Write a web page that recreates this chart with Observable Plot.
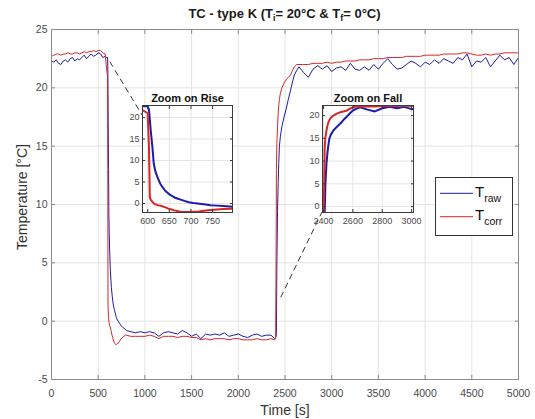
<!DOCTYPE html>
<html><head><meta charset="utf-8">
<script src="https://cdn.jsdelivr.net/npm/d3@7"></script>
<script src="https://cdn.jsdelivr.net/npm/@observablehq/plot@0.6"></script>
<style>
html,body{margin:0;padding:0;background:#fff;}
#chart{position:relative;width:535px;height:419px;overflow:hidden;font-family:"Liberation Sans",Arial,Helvetica,sans-serif;}
#chart > svg{position:absolute;}
.title{position:absolute;left:51px;width:467px;top:6px;text-align:center;font-weight:bold;font-size:13px;line-height:15px;color:#1a1a1a;white-space:nowrap;}
.title sub{font-size:9px;vertical-align:-3px;line-height:0;}
.xlabel{position:absolute;left:185px;width:200px;top:403px;text-align:center;font-size:14px;line-height:14px;color:#333;}
.ylabel{position:absolute;left:-78px;width:200px;top:190px;text-align:center;font-size:14px;line-height:14px;color:#333;transform:rotate(-90deg);}
</style></head>
<body>
<div id="chart">
  <div class="title">TC - type K (T<sub>i</sub>= 20°C &amp; T<sub>f</sub>= 0°C)</div>
  <div class="xlabel">Time [s]</div>
  <div class="ylabel">Temperature [°C]</div>
</div>
<script>
// ---- data ----
const time = [
  0,25,50,75,100,125,150,175,200,225,250,275,300,325,350,375,400,425,450,475,500,525,550,575,590,
  600,603,605,607,611,614,618,623,629,635,641,648,655,662,670,676,685,695,705,715,730,745,760,775,790,
  800,850,900,950,1000,1050,1100,1150,1200,1250,1300,1350,1400,1450,1500,1550,1600,1650,1700,1750,1800,1850,1900,1950,2000,2050,2100,2150,2200,2250,2300,2350,2390,
  2400,2405,2408,2413,2420,2427,2433,2440,2450,2467,2490,2513,2535,2560,2580,2600,2625,2650,
  2700,2750,2800,2850,2900,2950,3000,3050,3100,3150,3200,3250,3300,3350,3400,3450,3500,3550,3600,3650,3700,3750,3800,3850,3900,3950,4000,4050,4100,4150,4200,4250,4300,4350,4400,4450,4500,4550,4600,4650,4700,4750,4800,4850,4900,4950,5000
];
const tRaw = [
  22.3,22.2,22.4,22.1,22.0,22.3,22.4,22.2,22.5,22.6,22.3,22.5,22.4,22.6,22.8,22.5,22.7,22.9,22.7,22.8,23.0,22.9,22.6,22.7,22.6,
  22.6,21.8,19.5,17.0,13.0,9.3,7.4,6.0,4.6,3.7,2.9,2.3,1.8,1.4,1.1,0.9,0.6,0.3,0.1,0.0,-0.2,-0.4,-0.5,-0.6,-0.7,
  -0.8,-0.9,-1.0,-0.9,-1.0,-0.9,-1.0,-1.3,-1.0,-0.9,-1.0,-1.1,-0.8,-1.0,-1.3,-1.1,-1.5,-1.1,-1.2,-1.1,-1.2,-1.0,-1.3,-1.2,-1.1,-1.3,-1.4,-1.2,-1.1,-1.3,-1.2,-1.2,-1.5,
  -1.4,-1.3,-1.0,5.0,9.4,11.9,13.5,15.0,15.8,16.7,17.5,18.2,19.0,19.8,20.5,21.1,21.5,21.8,
  21.3,20.9,21.6,21.9,21.6,21.9,21.4,21.7,21.8,21.5,22.1,21.6,21.5,21.8,21.5,22.0,21.6,22.1,22.5,22.0,21.6,21.7,22.0,22.3,22.1,21.8,22.2,22.0,22.4,22.1,22.5,22.3,22.1,22.6,22.4,22.9,21.8,22.3,22.2,22.6,21.8,22.3,22.8,22.4,22.6,22.0,22.6
];
const tCorr = [
  22.7,22.8,22.9,22.9,22.8,22.9,22.9,23.0,22.9,22.9,23.0,23.0,22.9,23.0,23.1,23.0,23.1,23.1,23.2,23.1,23.2,23.2,23.0,22.9,21.6,
  21.0,13.0,1.4,0.9,0.4,0.0,-0.2,-0.4,-0.5,-0.7,-0.9,-1.2,-1.4,-1.6,-1.8,-1.9,-2.0,-2.0,-1.9,-1.9,-1.7,-1.5,-1.4,-1.3,-1.2,
  -1.2,-1.3,-1.3,-1.3,-1.3,-1.2,-1.3,-1.5,-1.3,-1.3,-1.3,-1.4,-1.3,-1.3,-1.4,-1.4,-1.6,-1.5,-1.6,-1.5,-1.5,-1.5,-1.6,-1.5,-1.5,-1.6,-1.6,-1.6,-1.5,-1.6,-1.6,-1.5,-1.6,
  -1.5,6.0,13.0,15.2,16.7,17.8,18.5,19.0,19.5,20.0,20.4,20.7,20.9,21.1,21.5,21.8,22.0,22.0,
  22.0,22.0,22.1,22.1,22.1,22.2,22.1,22.2,22.2,22.3,22.3,22.3,22.4,22.4,22.4,22.5,22.5,22.5,22.6,22.6,22.6,22.6,22.7,22.7,22.7,22.7,22.8,22.8,22.8,22.8,22.9,22.9,22.9,22.9,23.0,23.0,22.9,22.8,22.8,22.9,22.8,22.9,22.9,23.0,23.0,23.0,23.0
];
const seriesNames = ["raw", "corr"];
const xTicks = [0,500,1000,1500,2000,2500,3000,3500,4000,4500,5000];
const yTicks = [-5,0,5,10,15,20,25];
const riseTitle = "Zoom on Rise";
const riseXDomain = [588, 796];
const riseYDomain = [-2.1, 22.8];
const riseXTicks = [600,650,700,750];
const riseYTicks = [0,5,10,15,20];
const fallTitle = "Zoom on Fall";
const fallXDomain = [2393, 3013];
const fallYDomain = [-1.3, 22.2];
const fallXTicks = [2400,2600,2800,3000];
const fallYTicks = [0,5,10,15,20];
// connector anchor points: [main t, main T] -> [inset t, inset T]
const riseLink = [[630, 22.2], [588, 20.5]];
const fallLink = [[2460, 2.0], [2393, -1.3]];

// ---- styling ----
const FONT = '"Liberation Sans", Arial, Helvetica, sans-serif';
const BLUE = "#1c1ca8";
const RED = "#d82626";
const COLORS = {raw: BLUE, corr: RED};

const rows = time.map((t, i) => ({t, raw: tRaw[i], corr: tCorr[i]}));
const fmt = d => String(d);
const chart = document.getElementById("chart");

const main = Plot.plot({
  width: 535, height: 419,
  marginLeft: 51, marginRight: 17, marginTop: 29, marginBottom: 40,
  style: {fontFamily: FONT, fontSize: "10.5px", color: "#4a4a4a", background: "transparent", overflow: "visible"},
  x: {domain: [0, 5000]},
  y: {domain: [-5, 25]},
  marks: [
    Plot.gridX(xTicks, {stroke: "#e4e4e4", strokeOpacity: 1}),
    Plot.gridY(yTicks, {stroke: "#e4e4e4", strokeOpacity: 1}),
    Plot.line(rows, {x: "t", y: "raw", stroke: BLUE, strokeWidth: 1}),
    Plot.line(rows, {x: "t", y: "corr", stroke: RED, strokeWidth: 1}),
    Plot.frame({stroke: "#8c8c8c"}),
    Plot.axisX(xTicks, {anchor: "bottom", tickSize: -4, tickPadding: 14, tickFormat: fmt, label: null, stroke: "#8c8c8c"}),
    Plot.axisX(xTicks, {anchor: "top", tickSize: -4, tickFormat: () => "", label: null, stroke: "#8c8c8c"}),
    Plot.axisY(yTicks, {anchor: "left", tickSize: -4, tickPadding: 8, tickFormat: fmt, label: null, stroke: "#8c8c8c"}),
    Plot.axisY(yTicks, {anchor: "right", tickSize: -4, tickFormat: () => "", label: null, stroke: "#8c8c8c"})
  ]
});
main.style.left = "0px"; main.style.top = "0px";
chart.appendChild(main);

function inset(title, xd, yd, xt, yt, w, h) {
  return Plot.plot({
    width: 22 + w + 4, height: 18 + h + 16,
    marginLeft: 22, marginRight: 4, marginTop: 18, marginBottom: 16,
    x: {domain: xd}, y: {domain: yd},
    style: {fontFamily: FONT, fontSize: "9px", color: "#4a4a4a", background: "transparent", overflow: "visible"},
    marks: [
      Plot.frame({fill: "white", stroke: "none"}),
      Plot.gridX(xt, {stroke: "#e4e4e4", strokeOpacity: 1}),
      Plot.gridY(yt, {stroke: "#e4e4e4", strokeOpacity: 1}),
      Plot.line(rows, {x: "t", y: "raw", stroke: BLUE, strokeWidth: 2, clip: true}),
      Plot.line(rows, {x: "t", y: "corr", stroke: RED, strokeWidth: 2, clip: true}),
      Plot.frame({stroke: "#3a3a3a"}),
      Plot.axisX(xt, {anchor: "bottom", tickSize: -3, tickPadding: 8, tickFormat: fmt, label: null, stroke: "#3a3a3a"}),
      Plot.axisX(xt, {anchor: "top", tickSize: -3, tickFormat: () => "", label: null, stroke: "#3a3a3a"}),
      Plot.axisY(yt, {anchor: "left", tickSize: -3, tickPadding: 6, tickFormat: fmt, label: null, stroke: "#3a3a3a"}),
      Plot.axisY(yt, {anchor: "right", tickSize: -3, tickFormat: () => "", label: null, stroke: "#3a3a3a"}),
      Plot.text([title], {frameAnchor: "top", dy: -4, lineAnchor: "bottom", fontWeight: "bold", fontSize: 11, fill: "#111"})
    ]
  });
}

// connectors overlay (positions computed through the scales)
const riseLeft = 120, riseTop = 87, fallLeft = 300, fallTop = 87;
const rise = inset(riseTitle, riseXDomain, riseYDomain, riseXTicks, riseYTicks, 90, 107);
const fall = inset(fallTitle, fallXDomain, fallYDomain, fallXTicks, fallYTicks, 91, 107);

const mx = main.scale("x"), my = main.scale("y");
const overlay = d3.select(chart).append("svg")
  .attr("width", 535).attr("height", 419)
  .style("left", "0px").style("top", "0px").style("pointer-events", "none");
const links = [
  {link: riseLink, plot: rise, ox: riseLeft, oy: riseTop},
  {link: fallLink, plot: fall, ox: fallLeft, oy: fallTop}
];
for (const {link, plot, ox, oy} of links) {
  const ix = plot.scale("x"), iy = plot.scale("y");
  overlay.append("line")
    .attr("x1", mx.apply(link[0][0])).attr("y1", my.apply(link[0][1]))
    .attr("x2", ox + ix.apply(link[1][0])).attr("y2", oy + iy.apply(link[1][1]))
    .attr("stroke", "#333").attr("stroke-width", 1).attr("stroke-dasharray", "6,4");
}

rise.style.left = riseLeft + "px"; rise.style.top = riseTop + "px";
fall.style.left = fallLeft + "px"; fall.style.top = fallTop + "px";
chart.appendChild(rise);
chart.appendChild(fall);

// legend
const lg = d3.select(chart).append("svg")
  .attr("width", 79).attr("height", 60)
  .style("left", "435px").style("top", "177px");
lg.append("rect").attr("x", 0.5).attr("y", 0.5).attr("width", 77).attr("height", 58)
  .attr("fill", "white").attr("stroke", "#333");
seriesNames.forEach((name, i) => {
  const y = 16.3 + i * 23.4;
  lg.append("line").attr("x1", 5).attr("x2", 38).attr("y1", y).attr("y2", y)
    .attr("stroke", COLORS[name]).attr("stroke-width", 1);
  const t = lg.append("text").attr("x", 40).attr("y", y + 3.5)
    .attr("font-family", FONT).attr("font-size", 15).attr("fill", "#111").text("T");
  t.append("tspan").attr("font-size", 10.5).attr("dy", 5).text(name);
});
</script>
</body></html>
